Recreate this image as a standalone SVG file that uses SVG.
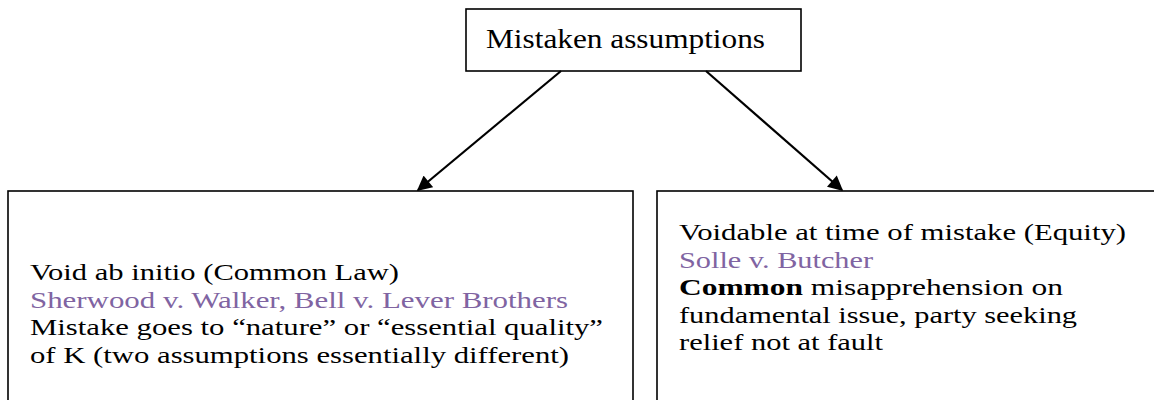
<svg xmlns="http://www.w3.org/2000/svg" width="1154" height="400" viewBox="0 0 1154 400">
<defs>
<style>
.box{fill:#fff;stroke:#000;stroke-width:1.6}
.t{font-family:"Liberation Serif","Times New Roman",serif;font-size:24px;fill:#000}
.title{font-family:"Liberation Serif","Times New Roman",serif;font-size:27px;fill:#000}
.case{fill:#8064A2}
.conn{stroke:#000;stroke-width:2.2;fill:none;marker-end:url(#arr)}
</style>
<marker id="arr" viewBox="0 0 10 10" refX="9" refY="5" markerWidth="16" markerHeight="15" markerUnits="userSpaceOnUse" orient="auto">
<path d="M0,0 L10,5 L0,10 z" fill="#000"/>
</marker>
</defs>
<rect width="1154" height="400" fill="#fff"/>
<g id="node-top">
<rect class="box" x="466" y="9" width="335" height="62"/>
<text class="title" x="486" y="48" textLength="279" lengthAdjust="spacingAndGlyphs">Mistaken assumptions</text>
</g>
<g id="node-left">
<rect class="box" x="8" y="191" width="625" height="220"/>
<text class="t" x="30" y="280" textLength="369" lengthAdjust="spacingAndGlyphs">Void ab initio (Common Law)</text>
<text class="t case" x="30" y="307.5" textLength="538" lengthAdjust="spacingAndGlyphs">Sherwood v. Walker, Bell v. Lever Brothers</text>
<text class="t" x="30" y="335" textLength="573" lengthAdjust="spacingAndGlyphs">Mistake goes to “nature” or “essential quality”</text>
<text class="t" x="30" y="362.5" textLength="539" lengthAdjust="spacingAndGlyphs">of K (two assumptions essentially different)</text>
</g>
<g id="node-right">
<rect class="box" x="657" y="191" width="510" height="220"/>
<text class="t" x="679" y="240" textLength="447" lengthAdjust="spacingAndGlyphs">Voidable at time of mistake (Equity)</text>
<text class="t case" x="679" y="267.5" textLength="194" lengthAdjust="spacingAndGlyphs">Solle v. Butcher</text>
<text class="t" x="679" y="295" textLength="384" lengthAdjust="spacingAndGlyphs"><tspan font-weight="bold">Common</tspan> misapprehension on</text>
<text class="t" x="679" y="322.5" textLength="398" lengthAdjust="spacingAndGlyphs">fundamental issue, party seeking</text>
<text class="t" x="679" y="350" textLength="204" lengthAdjust="spacingAndGlyphs">relief not at fault</text>
</g>
<g id="connectors">
<line class="conn" x1="561" y1="71" x2="418" y2="190"/>
<line class="conn" x1="706" y1="71" x2="842" y2="190"/>
</g>
</svg>
